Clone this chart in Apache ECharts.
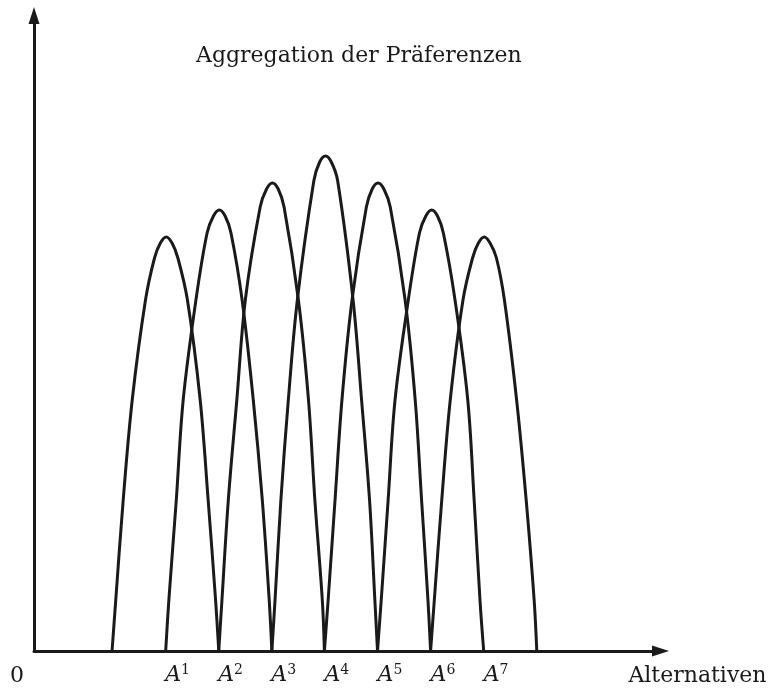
<!DOCTYPE html>
<html>
<head>
<meta charset="utf-8">
<script src="https://cdn.jsdelivr.net/npm/echarts@6/dist/echarts.min.js"></script>
<style>
  html, body { margin: 0; padding: 0; background: #fff; }
  #chart { width: 770px; height: 688px; }
</style>
</head>
<body>
<div id="chart"></div>
<script>
// x: position on the alternatives axis (A^k at k), y: preference height
const arch1 = [[0, 0], [0.07, 51], [0.21, 151], [0.38, 251], [0.63, 351], [0.80, 393], [0.91, 408], [1.02, 414], [1.13, 408], [1.24, 393], [1.42, 351], [1.66, 251], [1.81, 151], [1.95, 51], [2.01, 0]]
const arch2 = [[1.01, 0], [1.07, 51], [1.21, 151], [1.34, 251], [1.58, 351], [1.79, 418], [1.91, 435], [2.02, 441], [2.13, 435], [2.24, 418], [2.45, 351], [2.66, 251], [2.83, 151], [2.96, 51], [3.01, 0]]
const arch3 = [[2.01, 0], [2.07, 51], [2.19, 151], [2.35, 251], [2.51, 351], [2.79, 444], [2.91, 462], [3.02, 468], [3.13, 462], [3.24, 444], [3.51, 351], [3.70, 251], [3.82, 151], [3.96, 51], [4.00, 0]]
const arch4 = [[3.01, 0], [3.07, 51], [3.18, 151], [3.32, 251], [3.49, 351], [3.80, 470], [3.91, 489], [4.02, 495], [4.13, 489], [4.25, 470], [4.54, 351], [4.70, 251], [4.85, 151], [4.95, 51], [5.00, 0]]
const arch5 = [[4.00, 0], [4.07, 51], [4.20, 151], [4.33, 251], [4.52, 351], [4.79, 444], [4.90, 462], [5.01, 468], [5.12, 462], [5.24, 444], [5.52, 351], [5.71, 251], [5.83, 151], [5.95, 51], [6.00, 0]]
const arch6 = [[5.00, 0], [5.07, 51], [5.20, 151], [5.33, 251], [5.58, 351], [5.79, 418], [5.91, 435], [6.02, 441], [6.13, 435], [6.24, 418], [6.46, 351], [6.70, 251], [6.82, 151], [6.93, 51], [7.00, 0]]
const arch7 = [[6.00, 0], [6.07, 51], [6.21, 151], [6.37, 251], [6.61, 351], [6.79, 393], [6.90, 408], [7.01, 414], [7.12, 408], [7.24, 393], [7.39, 351], [7.62, 251], [7.80, 151], [7.95, 51], [8.00, 0]]

const tickValues = [1, 2, 3, 4, 5, 6, 7]
const tickSup = ['1', '2', '3', '4', '5', '6', '7']

const ink = '#1a1a1a'
const serif = 'DejaVu Serif'

const chart = echarts.init(document.getElementById('chart'), null, { renderer: 'canvas' })

const arches = [arch1, arch2, arch3, arch4, arch5, arch6, arch7]

const option = {
    animation: false,
    backgroundColor: '#fff',
    title: {
        text: 'Aggregation der Präferenzen',
        left: 191,
        top: 40,
        textStyle: {
            fontFamily: serif,
            fontSize: 22,
            fontWeight: 'normal',
            color: ink
        }
    },
    grid: {
        left: 34,
        right: 109.5,
        top: 15.5,
        bottom: 37
    },
    xAxis: {
        type: 'value',
        min: -1.47,
        max: 10.33,
        splitLine: { show: false },
        axisTick: { show: false },
        axisLine: {
            show: true,
            onZero: false,
            symbol: ['none', 'triangle'],
            symbolSize: [11, 17],
            lineStyle: { color: ink, width: 3 }
        },
        axisLabel: {
            customValues: tickValues,
            align: 'left',
            margin: 12,
            formatter: (v) => '{a|A}{s|' + tickSup[tickValues.indexOf(v)] + '}',
            rich: {
                a: { fontFamily: serif, fontStyle: 'italic', fontSize: 22, color: ink, lineHeight: 24 },
                s: { fontFamily: serif, fontSize: 14, color: ink, verticalAlign: 'top', lineHeight: 14 }
            }
        },
        name: 'Alternativen',
        nameLocation: 'end',
        nameGap: 106,
        nameTextStyle: {
            fontFamily: serif,
            fontSize: 22,
            color: ink,
            align: 'right',
            verticalAlign: 'top',
            padding: [14, 0, 0, 0]
        }
    },
    yAxis: {
        type: 'value',
        min: 0,
        max: 635.5,
        splitLine: { show: false },
        axisTick: { show: false },
        axisLabel: { show: false },
        axisLine: {
            show: true,
            onZero: false,
            symbol: ['none', 'triangle'],
            symbolSize: [11, 17],
            lineStyle: { color: ink, width: 3 }
        },
        name: '0',
        nameLocation: 'start',
        nameGap: 14,
        nameTextStyle: {
            fontFamily: serif,
            fontSize: 22,
            color: ink,
            padding: [0, 34, 0, 0]
        }
    },
    series: arches.map((d, i) => ({
        name: 'A' + (i + 1),
        type: 'line',
        data: d,
        smooth: 0.35,
        symbol: 'none',
        lineStyle: { color: ink, width: 3 }
    }))
}

chart.setOption(option)
</script>
</body>
</html>
